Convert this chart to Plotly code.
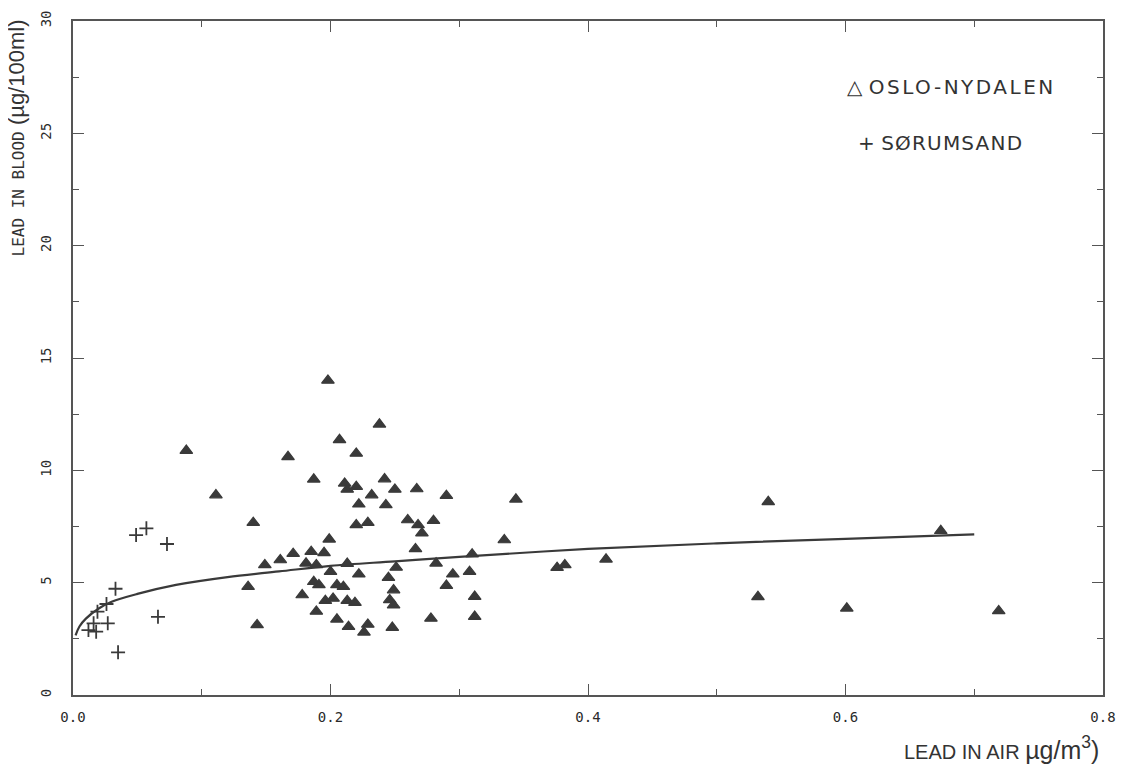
import plotly.graph_objects as go

# Oslo-Nydalen (filled triangles): lead in air (ug/m3), lead in blood (ug/100ml)
oslo_air = [0.088, 0.111, 0.136, 0.140, 0.143, 0.149, 0.161, 0.167, 0.171, 0.178,
            0.181, 0.185, 0.187, 0.187, 0.189, 0.189, 0.191, 0.195, 0.196, 0.198,
            0.199, 0.200, 0.202, 0.205, 0.205, 0.207, 0.210, 0.211, 0.213, 0.213,
            0.213, 0.214, 0.219, 0.220, 0.220, 0.220, 0.222, 0.222, 0.226, 0.229,
            0.229, 0.232, 0.238, 0.242, 0.243, 0.245, 0.246, 0.248, 0.249, 0.249,
            0.250, 0.251, 0.260, 0.266, 0.267, 0.268, 0.271, 0.278, 0.280, 0.282,
            0.290, 0.290, 0.295, 0.308, 0.310, 0.312, 0.312, 0.335, 0.344, 0.376,
            0.382, 0.414, 0.532, 0.540, 0.601, 0.674, 0.719]
oslo_blood = [10.88, 8.90, 4.82, 7.67, 3.12, 5.79, 6.01, 10.60, 6.29, 4.45,
              5.86, 6.38, 9.60, 5.04, 3.72, 5.79, 4.90, 6.33, 4.20, 14.00,
              6.93, 5.49, 4.30, 4.90, 3.37, 11.36, 4.82, 9.42, 9.15, 4.20,
              5.85, 3.04, 4.11, 10.75, 9.27, 7.57, 8.49, 5.38, 2.79, 7.67,
              3.14, 8.90, 12.05, 9.61, 8.46, 5.22, 4.23, 3.00, 4.67, 4.00,
              9.15, 5.68, 7.79, 6.50, 9.17, 7.57, 7.20, 3.41, 7.76, 5.86,
              8.87, 4.87, 5.38, 5.49, 6.27, 4.38, 3.49, 6.90, 8.71, 5.67,
              5.79, 6.04, 4.37, 8.60, 3.86, 7.31, 3.74]

# Sørumsand (crosses)
sor_air = [0.012, 0.016, 0.018, 0.019, 0.026, 0.027, 0.033, 0.035, 0.049, 0.057, 0.066, 0.073]
sor_blood = [2.89, 3.19, 2.82, 3.71, 4.05, 3.19, 4.73, 1.90, 7.12, 7.42, 3.48, 6.72]

# Fitted curve
curve_air = [0.002, 0.005, 0.01, 0.02, 0.03, 0.05, 0.08, 0.12, 0.16, 0.20,
             0.25, 0.30, 0.40, 0.50, 0.60, 0.70]
curve_blood = [2.65, 3.05, 3.40, 3.85, 4.15, 4.50, 4.90, 5.25, 5.50, 5.75,
               5.95, 6.15, 6.50, 6.75, 6.95, 7.15]

x_ticks = [0.0, 0.2, 0.4, 0.6, 0.8]
x_tick_text = ["0.0", "0.2", "0.4", "0.6", "0.8"]
y_ticks = [0, 5, 10, 15, 20, 25, 30]

ink = "#3a3a3a"
axis_col = "#555555"
text_col = "#333333"

fig = go.Figure()
fig.add_trace(go.Scatter(x=curve_air, y=curve_blood, mode="lines",
                         line=dict(color=ink, width=2.2, shape="spline"),
                         showlegend=False, hoverinfo="skip"))
fig.add_trace(go.Scatter(x=oslo_air, y=oslo_blood, mode="markers", name="OSLO-NYDALEN",
                         marker=dict(symbol="triangle-up", size=11, color=ink,
                                     line=dict(width=1.2, color=ink)),
                         showlegend=False))
fig.add_trace(go.Scatter(x=sor_air, y=sor_blood, mode="markers", name="SØRUMSAND",
                         marker=dict(symbol="cross-thin", size=10,
                                     line=dict(color=ink, width=1.8)),
                         showlegend=False))

axis_common = dict(showline=True, linecolor=axis_col, linewidth=1.5, mirror="ticks",
                   ticks="inside", tickcolor=axis_col, tickwidth=1.3,
                   showgrid=False, zeroline=False, automargin=False,
                   tickfont=dict(family="DejaVu Sans Mono", size=14, color="#2a2a2a"))

fig.update_xaxes(range=[0, 0.8], tickvals=x_ticks, ticktext=x_tick_text, ticklen=11,
                 minor=dict(dtick=0.1, ticks="inside", ticklen=6, tickcolor=axis_col,
                            tickwidth=1.2),
                 ticklabelstandoff=8, **axis_common)
fig.update_yaxes(range=[0, 30], tickvals=y_ticks, ticklen=11, tickangle=-90,
                 minor=dict(dtick=2.5, ticks="inside", ticklen=6, tickcolor=axis_col,
                            tickwidth=1.2),
                 ticklabelstandoff=15, **axis_common)

# y-axis title (rotated), near the top-left like the original
fig.add_annotation(xref="paper", yref="paper", x=-0.055, y=1.005, xanchor="center",
                   yanchor="top", textangle=-90, showarrow=False,
                   text="<span style='font-size:16px;font-family:DejaVu Sans Mono'>LEAD IN BLOOD</span>"
                        " <span style='font-size:22px'>(µg/100ml)</span>",
                   font=dict(family="Liberation Sans", size=22, color=text_col))
# x-axis title at the bottom right
fig.add_annotation(xref="paper", yref="paper", x=0.998, y=-0.079, xanchor="right",
                   yanchor="middle", showarrow=False,
                   text="LEAD IN AIR <span style='font-size:25px'>µg/m<sup>3</sup>)</span>",
                   font=dict(family="Liberation Sans", size=20, color=text_col))
# legend text
fig.add_annotation(xref="paper", yref="paper", x=0.7495, y=0.902, xanchor="left",
                   yanchor="middle", showarrow=False,
                   text="△ <span style='letter-spacing:2.5px'>OSLO-NYDALEN</span>",
                   font=dict(family="DejaVu Sans", size=20, color=text_col))
fig.add_annotation(xref="paper", yref="paper", x=0.760, y=0.819, xanchor="left",
                   yanchor="middle", showarrow=False,
                   text="+ <span style='letter-spacing:1.2px'>SØRUMSAND</span>",
                   font=dict(family="DejaVu Sans", size=20, color=text_col))

# page body adds an ~8px offset, so size the figure to fit the 1128x767 window
fig.update_layout(width=1120, height=759, margin=dict(l=65, r=25, t=13, b=72),
                  paper_bgcolor="white", plot_bgcolor="white")

fig.write_html("out.html")
